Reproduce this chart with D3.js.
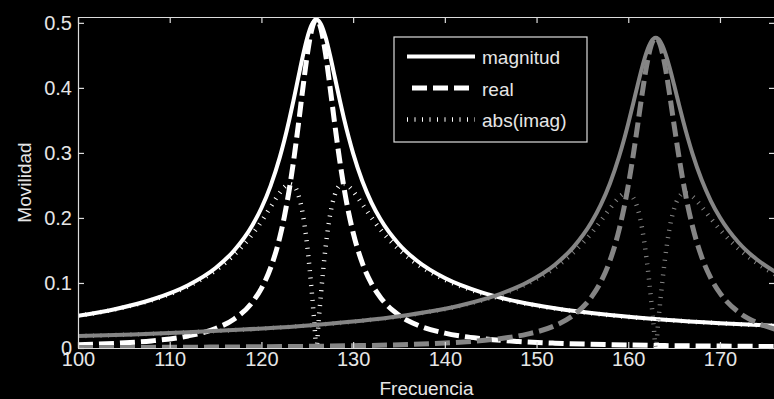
<!DOCTYPE html>
<html>
<head>
<meta charset="utf-8">
<script src="https://cdn.jsdelivr.net/npm/d3@7"></script>
<style>
  html, body { margin: 0; padding: 0; background: #000; }
  svg { display: block; }
  text { font-family: "Liberation Sans", Arial, sans-serif; fill: #e6e6e6; }
</style>
</head>
<body>
<svg id="chart" width="774" height="399"></svg>
<script>
// Mode 1 (white): frequency grid and mobility components
const freq1 = [100, 104, 108, 112, 115, 117, 119, 120, 121, 122, 122.5, 123, 123.5, 124, 124.5, 125, 125.5, 125.75, 126,
  126.25, 126.5, 127, 127.5, 128, 128.5, 129, 129.5, 130, 131, 132, 133, 135, 137, 140, 144, 148, 152, 158, 164, 170, 176];
const magnitud1 = [0.0496, 0.0597, 0.0742, 0.0966, 0.1231, 0.1496, 0.1884, 0.2153, 0.2494, 0.2931, 0.3194, 0.3487, 0.3807,
  0.4145, 0.4479, 0.4772, 0.4976, 0.5031, 0.505, 0.5031, 0.4977, 0.4776, 0.4490, 0.4167, 0.3840, 0.3530, 0.3247, 0.2993,
  0.2569, 0.2237, 0.1976, 0.1596, 0.1337, 0.1075, 0.0855, 0.0711, 0.0611, 0.0506, 0.0434, 0.0381, 0.0340];
const real1 = [0.0049, 0.0071, 0.0109, 0.0185, 0.0300, 0.0443, 0.0703, 0.0918, 0.1231, 0.1701, 0.2020, 0.2407, 0.2870,
  0.3403, 0.3973, 0.4509, 0.4903, 0.5013, 0.505, 0.5013, 0.4905, 0.4517, 0.3993, 0.3438, 0.2919, 0.2467, 0.2087, 0.1774,
  0.1307, 0.0991, 0.0773, 0.0504, 0.0354, 0.0229, 0.0145, 0.0100, 0.0074, 0.0051, 0.0037, 0.0029, 0.0023];
const imag1 = [0.0494, 0.0593, 0.0734, 0.0948, 0.1194, 0.1429, 0.1748, 0.1947, 0.2168, 0.2387, 0.2474, 0.2522, 0.2501,
  0.2367, 0.2069, 0.1562, 0.0848, 0.0433, 0, 0.0432, 0.0845, 0.1552, 0.2055, 0.2354, 0.2494, 0.2524, 0.2487, 0.2411,
  0.2212, 0.2006, 0.1818, 0.1514, 0.1289, 0.1051, 0.0842, 0.0704, 0.0607, 0.0504, 0.0432, 0.0380, 0.0339];

// Mode 2 (grey)
const freq2 = [100, 106, 112, 118, 124, 130, 136, 142, 146, 149, 152, 154, 156, 157, 158, 159, 159.5, 160, 160.5, 161,
  161.5, 162, 162.5, 162.75, 163, 163.25, 163.5, 164, 164.5, 165, 165.5, 166, 166.5, 167, 168, 169, 170, 172, 174, 176];
const magnitud2 = [0.0183, 0.0209, 0.0242, 0.0283, 0.0335, 0.0406, 0.0508, 0.0666, 0.0830, 0.1011, 0.1281, 0.1548,
  0.1936, 0.2200, 0.2530, 0.2945, 0.3187, 0.3454, 0.3738, 0.4030, 0.4310, 0.4549, 0.4712, 0.4755, 0.477, 0.4755, 0.4712,
  0.4551, 0.4317, 0.4044, 0.3760, 0.3484, 0.3225, 0.2989, 0.2586, 0.2264, 0.2006, 0.1626, 0.1364, 0.1174];
const real2 = [0.0007, 0.0009, 0.0012, 0.0017, 0.0024, 0.0035, 0.0054, 0.0093, 0.0144, 0.0214, 0.0344, 0.0502, 0.0786,
  0.1015, 0.1342, 0.1818, 0.2130, 0.2501, 0.2929, 0.3405, 0.3895, 0.4338, 0.4654, 0.4741, 0.477, 0.4741, 0.4655, 0.4343,
  0.3908, 0.3429, 0.2964, 0.2544, 0.2181, 0.1874, 0.1402, 0.1075, 0.0844, 0.0554, 0.0390, 0.0289];
const imag2 = [0.0183, 0.0209, 0.0242, 0.0282, 0.0335, 0.0405, 0.0505, 0.0659, 0.0817, 0.0988, 0.1234, 0.1464, 0.1769,
  0.1952, 0.2145, 0.2317, 0.2371, 0.2382, 0.2322, 0.2156, 0.1846, 0.1369, 0.0733, 0.0373, 0, 0.0373, 0.0731, 0.1362,
  0.1836, 0.2144, 0.2314, 0.2380, 0.2376, 0.2330, 0.2173, 0.1993, 0.1820, 0.1529, 0.1307, 0.1135];

const xTicks = [100, 110, 120, 130, 140, 150, 160, 170];
const yTicks = [0, 0.1, 0.2, 0.3, 0.4, 0.5];
const legendLabels = ["magnitud", "real", "abs(imag)"];
const xLabel = "Frecuencia";
const yLabel = "Movilidad";

const svg = d3.select("#chart");
svg.append("rect").attr("width", 774).attr("height", 399).attr("fill", "#000");

const plot = { left: 78, right: 775, top: 17, bottom: 348 };
const x = d3.scaleLinear().domain([100, 176]).range([plot.left, plot.right]);
const y = d3.scaleLinear().domain([0, 0.509]).range([plot.bottom, plot.top]);

const WHITE = "#ffffff", GREY = "#858585", AXIS = "#dcdcdc";
const styles = {
  solid: { width: 4, dash: null },
  dashed: { width: 5, dash: "15,6" },
  dotted: { width: 4.5, dash: "1,6.5" }
};

svg.append("clipPath").attr("id", "plotClip")
  .append("rect")
  .attr("x", plot.left).attr("y", plot.top)
  .attr("width", plot.right - plot.left).attr("height", plot.bottom - plot.top);

const curves = svg.append("g").attr("clip-path", "url(#plotClip)");

function drawSeries(freqs, values, color, style) {
  const pts = freqs.map((f, i) => [f, values[i]]);
  const line = d3.line().x(d => x(d[0])).y(d => y(d[1])).curve(d3.curveMonotoneX);
  const s = styles[style];
  curves.append("path")
    .attr("d", line(pts))
    .attr("fill", "none")
    .attr("stroke", color)
    .attr("stroke-width", s.width)
    .attr("stroke-linejoin", "round")
    .attr("stroke-dasharray", s.dash);
}

drawSeries(freq1, magnitud1, WHITE, "solid");
drawSeries(freq1, real1, WHITE, "dashed");
drawSeries(freq1, imag1, WHITE, "dotted");
drawSeries(freq2, magnitud2, GREY, "solid");
drawSeries(freq2, real2, GREY, "dashed");
drawSeries(freq2, imag2, GREY, "dotted");

// Axes with inward ticks on all four sides
function styleAxis(g) {
  g.selectAll("path, line").attr("stroke", AXIS).attr("stroke-width", 1.2);
  g.selectAll("text").attr("fill", "#e6e6e6").attr("font-family", "Liberation Sans, Arial, sans-serif");
}

svg.append("g").attr("transform", `translate(0,${plot.bottom})`)
  .call(d3.axisBottom(x).tickValues(xTicks).tickSizeInner(-6).tickSizeOuter(0).tickPadding(4).tickFormat(d3.format("d")))
  .call(styleAxis)
  .selectAll("text").attr("font-size", 20);

svg.append("g").attr("transform", `translate(0,${plot.top})`)
  .call(d3.axisTop(x).tickValues(xTicks).tickSizeInner(-6).tickSizeOuter(0).tickFormat(""))
  .call(styleAxis);

svg.append("g").attr("transform", `translate(${plot.left},0)`)
  .call(d3.axisLeft(y).tickValues(yTicks).tickSizeInner(-6).tickSizeOuter(0).tickPadding(6).tickFormat(d => d === 0 ? "0" : d3.format(".1f")(d)))
  .call(styleAxis)
  .selectAll("text").attr("font-size", 20);

svg.append("g").attr("transform", `translate(${plot.right},0)`)
  .call(d3.axisRight(y).tickValues(yTicks).tickSizeInner(-6).tickSizeOuter(0).tickFormat(""))
  .call(styleAxis);

// Axis titles
svg.append("text")
  .attr("x", (plot.left + plot.right) / 2).attr("y", 395)
  .attr("text-anchor", "middle").attr("font-size", 19)
  .text(xLabel);

svg.append("text")
  .attr("transform", `translate(31,${(plot.top + plot.bottom) / 2}) rotate(-90)`)
  .attr("text-anchor", "middle").attr("font-size", 19)
  .text(yLabel);

// Legend
const legend = svg.append("g");
legend.append("rect")
  .attr("x", 394).attr("y", 37).attr("width", 193).attr("height", 105)
  .attr("fill", "#000").attr("stroke", AXIS).attr("stroke-width", 1.2);

const legendStyles = ["solid", "dashed", "dotted"];
legendLabels.forEach((label, i) => {
  const ly = 56.5 + i * 31.5;
  const s = styles[legendStyles[i]];
  const x0 = legendStyles[i] === "dashed" ? 412 : 407;
  const x1 = legendStyles[i] === "dashed" ? 470 : 475;
  legend.append("line")
    .attr("x1", x0).attr("x2", x1).attr("y1", ly).attr("y2", ly)
    .attr("stroke", WHITE).attr("stroke-width", s.width)
    .attr("stroke-dasharray", s.dash);
  legend.append("text")
    .attr("x", 482).attr("y", ly + 7.5)
    .attr("font-size", 19)
    .text(label);
});
</script>
</body>
</html>
